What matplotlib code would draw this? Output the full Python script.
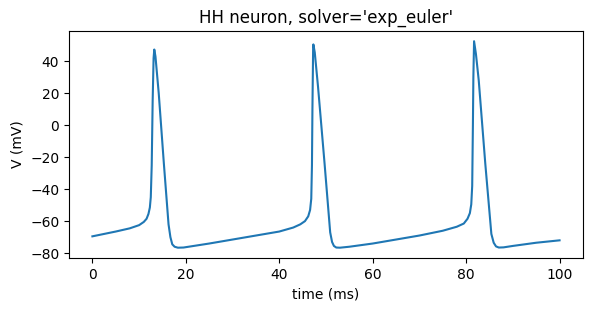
import matplotlib
matplotlib.use('Agg')
import matplotlib.pyplot as plt

# membrane potential
time_ms = [0, 5, 8, 10, 11, 11.6, 12.0, 12.3, 12.5, 12.7, 12.9, 13.1, 13.25, 13.5,
           14.2, 15.3, 16.3, 16.7, 17.1, 17.6, 18.3, 19.5, 25, 30, 35, 40, 43, 44.5,
           45.5, 46.2, 46.6, 46.85, 47.0, 47.1, 47.25, 47.3, 47.6, 48.3, 49.7, 50.9,
           51.3, 51.7, 52.2, 53, 55, 60, 65, 70, 75, 78, 79.5, 80.3, 80.8, 81.1, 81.3,
           81.45, 81.55, 81.7, 82.1, 82.7, 84.1, 85.4, 85.9, 86.4, 87.0, 88, 90, 95, 100]
voltage_mv = [-69.5, -66.5, -64.5, -62.5, -60.5, -58.5, -55.5, -51.5, -45, -25, 15, 42, 47.3, 43,
              20, -24, -62, -70, -74.5, -76, -76.6, -76.5, -74, -71.5, -69, -66.5, -64, -62,
              -60, -57, -53, -46, -25, 10, 48, 50.5, 45.5, 24, -24, -67,
              -73, -75.5, -76.5, -76.6, -76, -74, -71.5, -69, -66, -63.5, -61.5, -58.5, -55, -49.5, -38,
              0, 30, 52.5, 44.5, 28, -24, -68, -73.5, -75.8, -76.5, -76.4, -75.5, -73.5, -72]

fig = plt.figure(figsize=(5.9, 3.09), dpi=100)
ax = fig.add_subplot(111)
fig.subplots_adjust(left=0.117, right=0.988, top=0.9, bottom=0.165)
ax.plot(time_ms, voltage_mv)
ax.set_xlabel('time (ms)')
ax.set_ylabel('V (mV)')
ax.set_title("HH neuron, solver='exp_euler'")
fig.savefig('out.png', dpi=100)
